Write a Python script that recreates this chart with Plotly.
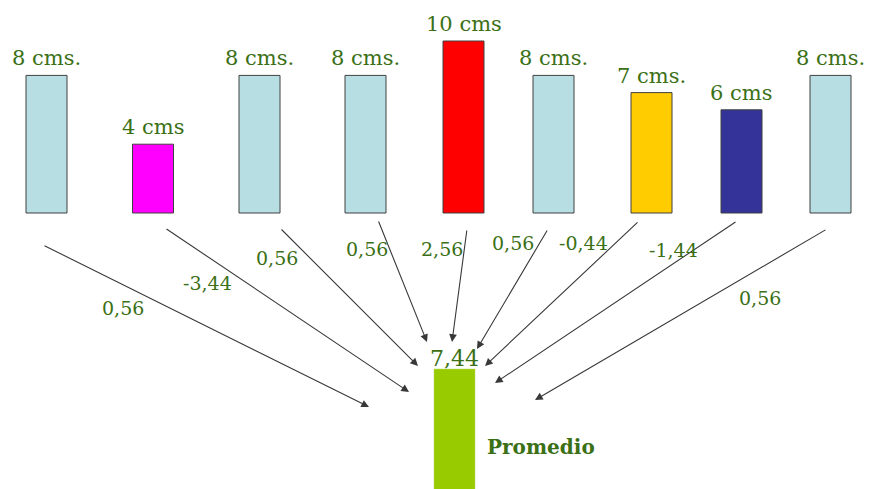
import plotly.graph_objects as go

# mediciones (cm) y su orden de izquierda a derecha
valores = [8, 4, 8, 8, 10, 8, 7, 6, 8]
etiquetas = ["8 cms.", "4 cms", "8 cms.", "8 cms.", "10 cms", "8 cms.", "7 cms.", "6 cms", "8 cms."]
colores = ["#b7dee3", "#ff00ff", "#b7dee3", "#b7dee3", "#ff0000",
           "#b7dee3", "#ffcc00", "#333399", "#b7dee3"]

promedio = sum(valores) / len(valores)
desviaciones = [v - promedio for v in valores]

# --- maquetación (píxeles de la lámina) ---
W, H = 875, 489
OFF = 8                # margen por defecto del <body>
BASE_PX = 213          # fila donde apoyan las barras
PX_CM = 17.2           # píxeles por centímetro
bar_x = [46.5, 153, 259.5, 365.5, 463.5, 553.5, 651.5, 741.5, 830.5]
bar_w = 41
prom_x = 454.5
prom_top_px = 369

# flechas: origen bajo cada barra -> punta junto a la barra promedio
flecha_ini = [(43, 245), (165, 228), (280, 228), (378, 220), (467, 229),
              (548, 229), (639, 221), (737, 221), (827, 229)]
flecha_fin = [(369, 407), (409, 392), (418, 366), (427, 342), (452, 342),
              (477, 349), (485, 366), (495, 383), (535, 400)]
desv_pos = [(123, 308), (207, 283), (277, 258), (367, 249), (442, 249),
            (513, 243), (583, 243), (673, 250), (760, 298)]

VERDE = "#3b7016"
SERIF = "DejaVu Serif"


def py(row):
    return (BASE_PX - row) / PX_CM


def fmt(v):
    return f"{v:.2f}".replace(".", ",")


fig = go.Figure()
fig.add_trace(go.Bar(
    x=bar_x, y=valores, width=bar_w,
    marker={"color": colores, "line": {"color": "#404040", "width": 1}},
    hoverinfo="skip",
))
prom_top = py(prom_top_px)
fig.add_trace(go.Bar(
    x=[prom_x], y=[promedio], base=[prom_top - promedio], width=bar_w,
    marker={"color": "#99cc00", "line": {"color": "#b5d86a", "width": 0.5}},
    hoverinfo="skip",
))

anns = []
for x, v, t in zip(bar_x, valores, etiquetas):
    anns.append(dict(x=x, y=v, text=t, showarrow=False, yanchor="bottom", yshift=3,
                     font={"family": SERIF, "size": 21, "color": VERDE}))
anns.append(dict(x=prom_x, y=prom_top, text=fmt(promedio), showarrow=False,
                 yanchor="bottom", yshift=-4,
                 font={"family": SERIF, "size": 22, "color": VERDE}))
anns.append(dict(x=541, y=py(447), text="<b>Promedio</b>", showarrow=False,
                 font={"family": SERIF, "size": 20, "color": VERDE}))

for (sx, sy), (ex, ey) in zip(flecha_ini, flecha_fin):
    anns.append(dict(x=ex, y=py(ey), ax=sx, ay=py(sy), xref="x", yref="y",
                     axref="x", ayref="y", text="", showarrow=True,
                     arrowhead=2, arrowsize=1.4, arrowwidth=1.1, arrowcolor="#383838",
                     standoff=0))

for (lx, ly), d in zip(desv_pos, desviaciones):
    anns.append(dict(x=lx, y=py(ly), text=fmt(d), showarrow=False,
                     font={"family": SERIF, "size": 19, "color": VERDE}))

fig.update_layout(
    width=W, height=H,
    margin={"l": 0, "r": 0, "t": 0, "b": 0},
    paper_bgcolor="white", plot_bgcolor="white",
    showlegend=False, barmode="overlay",
    font={"family": SERIF},
    xaxis={"range": [OFF, W + OFF], "visible": False, "fixedrange": True},
    yaxis={"range": [py(H + OFF), py(OFF)], "visible": False, "fixedrange": True},
    annotations=anns,
)

fig.write_html("out.html")
